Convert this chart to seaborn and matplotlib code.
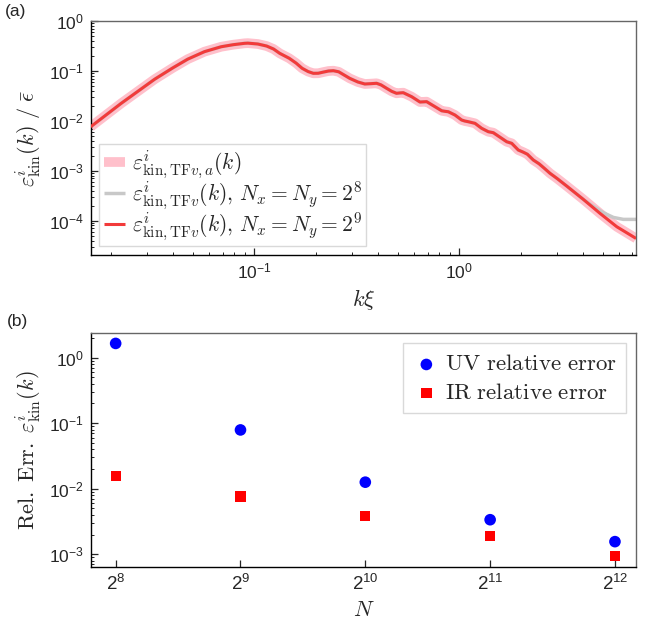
import numpy as np
import pandas as pd
import matplotlib
matplotlib.use("Agg")
import matplotlib.pyplot as plt
import matplotlib.ticker as mticker
from matplotlib.font_manager import FontProperties
import seaborn as sns

# ---------------- data ----------------
# panel (a): kinetic energy spectrum
k_vals = [0.0159, 0.0224, 0.0326, 0.0400, 0.0473, 0.0571, 0.0689, 0.0788, 0.0895, 0.093, 0.104,
          0.1148, 0.124, 0.133, 0.148, 0.160, 0.171, 0.183, 0.194, 0.205, 0.218, 0.230,
          0.243, 0.258, 0.292, 0.320, 0.346, 0.370, 0.395, 0.415,
          0.442, 0.468, 0.494, 0.513, 0.533, 0.586, 0.643, 0.668, 0.693, 0.761, 0.821, 0.852,
          0.884, 0.953, 1.027, 1.065, 1.106, 1.193, 1.286, 1.386, 1.466, 1.580, 1.704,
          1.803, 1.941, 2.05, 2.15, 2.298, 2.45, 2.60, 2.77, 3.00, 3.345, 4.03, 4.86,
          5.87, 7.29]
E_vals = [7.6e-3, 0.0224, 0.068, 0.115, 0.172, 0.243, 0.305, 0.335, 0.357, 0.36, 0.346,
          0.315, 0.275, 0.225, 0.179, 0.143, 0.113, 0.097, 0.0895, 0.0898, 0.095, 0.0995,
          0.101, 0.096, 0.071, 0.060, 0.0547, 0.0555, 0.0565, 0.0525,
          0.0448, 0.039, 0.0356, 0.0362, 0.0366, 0.0304, 0.0238, 0.0240, 0.0242, 0.0192,
          0.0159, 0.0155, 0.0152, 0.01306, 0.01038, 0.0099, 0.0096, 0.00891, 0.00708,
          0.00605, 0.00578, 0.0047, 0.00381, 0.00354, 0.0026, 0.00236, 0.00214, 0.00164,
          0.00138, 0.00112, 8.9e-4, 7.0e-4, 4.93e-4, 2.67e-4, 1.4e-4, 7.55e-5, 4.4e-5]
# low-resolution (N = 2^8) run departs from the curve at high k
gray_tail_k = [4.45, 5.05, 5.65, 6.32, 7.29]
gray_tail_E = [2.0e-4, 1.44e-4, 1.16e-4, 1.06e-4, 1.06e-4]

# panel (b): relative errors
N_exp = [8, 9, 10, 11, 12]
uv_err = [1.65, 0.079, 0.0126, 3.37e-3, 1.56e-3]
ir_err = [0.0157, 7.6e-3, 3.8e-3, 1.88e-3, 9.4e-4]

# ---------------- style ----------------
sns.set_theme(style="ticks")
plt.rcParams["font.family"] = ["Liberation Sans", "DejaVu Sans"]
plt.rcParams["mathtext.fontset"] = "custom"
plt.rcParams["mathtext.rm"] = "Liberation Sans"
plt.rcParams["mathtext.it"] = "Liberation Sans:italic"
plt.rcParams["mathtext.bf"] = "Liberation Sans:bold"
plt.rcParams["mathtext.sf"] = "Liberation Sans"
plt.rcParams["axes.unicode_minus"] = True

fig = plt.figure(figsize=(6.62, 6.25), dpi=100)
ax1 = fig.add_axes([0.137, 0.592, 0.824, 0.3744])
ax2 = fig.add_axes([0.137, 0.0928, 0.824, 0.3744])

# ---------------- panel (a) ----------------
df_a = pd.DataFrame({"k": k_vals, "E": E_vals})
gk = [k for k in k_vals if k < 4.1] + gray_tail_k
gE = [e for k, e in zip(k_vals, E_vals) if k < 4.1] + gray_tail_E
df_g = pd.DataFrame({"k": gk, "E": gE})

ax1.set_xscale("log")
ax1.set_yscale("log")
sns.lineplot(data=df_a, x="k", y="E", ax=ax1, color="pink", lw=7.0,
             estimator=None, sort=False, zorder=1,
             label=r"$\varepsilon^{i}_{\mathrm{kin,TF}v,a}(k)$")
sns.lineplot(data=df_g, x="k", y="E", ax=ax1, color="#c8c8c8", lw=2.5,
             estimator=None, sort=False, zorder=2,
             label=r"$\varepsilon^{i}_{\mathrm{kin,TF}v}(k),\,N_x=N_y=2^8$")
sns.lineplot(data=df_a, x="k", y="E", ax=ax1, color="#f23a3a", lw=2.2,
             estimator=None, sort=False, zorder=3,
             label=r"$\varepsilon^{i}_{\mathrm{kin,TF}v}(k),\,N_x=N_y=2^9$")
for ln in ax1.get_lines():
    ln.set_solid_joinstyle("round")
    ln.set_solid_capstyle("butt")
ax1.set_xlim(0.0159, 7.3)
ax1.set_ylim(2.05e-5, 1.0)
ax1.set_xlabel(r"$k\xi$", fontsize=16, math_fontfamily="cm")
ax1.set_ylabel(r"$\varepsilon^{i}_{\mathrm{kin}}(k)\ /\ \bar{\epsilon}$", fontsize=16,
               math_fontfamily="cm")
leg1 = ax1.legend(loc="lower left", bbox_to_anchor=(0.016, 0.038), borderaxespad=0,
                  prop=FontProperties(size=15.5, math_fontfamily="cm"),
                  frameon=True, fancybox=False, edgecolor="#d0d0d0",
                  handlelength=1.0, handletextpad=0.3, labelspacing=-0.05,
                  borderpad=0.2)
leg1.get_frame().set_linewidth(1.0)

# ---------------- panel (b) ----------------
N_vals = [2 ** n for n in N_exp]
df_b = pd.DataFrame({"N": N_vals, "uv": uv_err, "ir": ir_err})
ax2.set_xscale("log", base=2)
ax2.set_yscale("log")
sns.scatterplot(data=df_b, x="N", y="uv", ax=ax2, marker="o", color="#0000ff",
                s=70, edgecolor="none", label=r"$\mathrm{UV\ relative\ error}$")
sns.scatterplot(data=df_b, x="N", y="ir", ax=ax2, marker="s", color="#ff0000",
                s=55, edgecolor="none", label=r"$\mathrm{IR\ relative\ error}$")
ax2.set_xlim(2 ** 7.8, 2 ** 12.17)
ax2.set_ylim(6.4e-4, 2.38)
ax2.set_xticks(N_vals)
ax2.set_xticklabels([r"$2^{%d}$" % n for n in N_exp])
ax2.xaxis.set_minor_locator(mticker.NullLocator())
ax2.set_xlabel(r"$N$", fontsize=16, math_fontfamily="cm")
ax2.set_ylabel(r"$\mathrm{Rel.\ Err.}\ \varepsilon^{i}_{\mathrm{kin}}(k)$", fontsize=16,
               math_fontfamily="cm")
leg2 = ax2.legend(loc="upper right", borderaxespad=0.45,
                  prop=FontProperties(size=16.5, math_fontfamily="cm"),
                  frameon=True, fancybox=False, edgecolor="#d0d0d0",
                  handletextpad=0.2, labelspacing=0.25, borderpad=0.4,
                  handlelength=1.2)
leg2.get_frame().set_linewidth(1.0)

for ax in (ax1, ax2):
    ax.tick_params(which="both", direction="in", top=False, right=False)
    ax.tick_params(which="major", length=5, width=0.9, labelsize=12.5, pad=5)
    ax.tick_params(which="minor", length=2.5, width=0.7)
    for s in ("left", "bottom"):
        ax.spines[s].set_color("black")
        ax.spines[s].set_linewidth(1.0)
    for s in ("top", "right"):
        ax.spines[s].set_color("#666666")
        ax.spines[s].set_linewidth(1.0)
    ax.yaxis.set_minor_locator(mticker.LogLocator(base=10, subs=np.arange(2, 10) * 1.0, numticks=20))
ax1.xaxis.set_minor_locator(mticker.LogLocator(base=10, subs=np.arange(2, 10) * 1.0, numticks=20))
ax2.tick_params(axis="x", labelsize=13.5)

fig.text(0.008, 0.981, "(a)", fontsize=12.5, va="center", ha="left")
fig.text(0.011, 0.485, "(b)", fontsize=12.5, va="center", ha="left")

fig.savefig("out.png", dpi=100)
